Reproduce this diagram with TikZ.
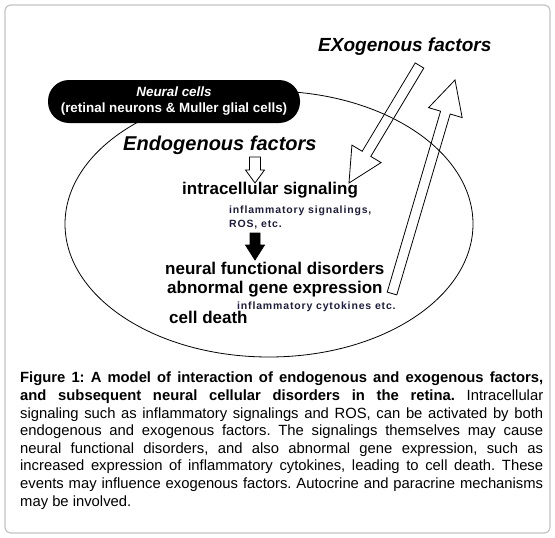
\documentclass[tikz,border=0pt]{standalone}
\usepackage{fontspec}
\setmainfont{Liberation Sans}
\usepackage{xcolor}
\usepackage{tikz}
\usetikzlibrary{calc}
\definecolor{framegray}{RGB}{195,195,195}
\definecolor{smallnavy}{RGB}{30,30,60}
\tikzstyle{headtext}=[inner sep=0pt,anchor=base west,font=\fontsize{19}{22}\selectfont\bfseries\itshape]
\tikzstyle{bigtext}=[inner sep=0pt,anchor=base west,font=\fontsize{17}{20}\selectfont\bfseries]
\tikzstyle{smalltext}=[inner sep=0pt,anchor=base west,text=smallnavy,font=\fontsize{10.5}{12}\selectfont\bfseries\addfontfeature{LetterSpace=8}]
\tikzstyle{blk}=[line width=.8pt,line join=miter]
% hollow block arrow: #2 tail, #3 tip, #4 half shaft, #5 half head, #6 head length
\newcommand\blockarrow[6][]{%
  \coordinate (#2-#3-h) at ($(#3)!#6!(#2)$);
  \draw[#1] ($(#2)!#4!90:(#3)$) -- ($(#2-#3-h)!#4!-90:(#2)$) -- ($(#2-#3-h)!#5!-90:(#2)$)
    -- (#3) -- ($(#2-#3-h)!#5!90:(#2)$) -- ($(#2-#3-h)!#4!90:(#2)$) -- ($(#2)!#4!-90:(#3)$) -- cycle;
}

\begin{document}
\begin{tikzpicture}[x=1pt,y=-1pt]
	\useasboundingbox (0,0) rectangle (555,538);
	\draw[framegray,line width=1.2pt,rounded corners=6pt] (5,5) rectangle (550,533);
	% the cell
	\draw[line width=.8pt] (269,224) ellipse [x radius=204pt,y radius=133pt];
	\node[fill=black,rounded corners=21pt,minimum width=252pt,minimum height=43pt,inner sep=0pt,
	      text=white,align=center,font=\fontsize{13.4}{16}\selectfont\bfseries]
	      (cells) at (174,101.5) {\textit{Neural cells}\\(retinal neurons \& Muller glial cells)};
	\node[headtext] (exo)  at (318,52)  {EXogenous factors};
	\node[headtext,font=\fontsize{20}{23}\selectfont\bfseries\itshape] (endo) at (123,150) {Endogenous factors};
	\node[bigtext] (signal)   at (182,194) {intracellular signaling};
	\node[smalltext] (infl)   at (229,213) {inflammatory signalings,};
	\node[smalltext] (ros)    at (229,227) {ROS, etc.};
	\node[bigtext] (disorder) at (165,274) {neural functional disorders};
	\node[bigtext] (expr)     at (167,293) {abnormal gene expression};
	\node[smalltext] (cyto)   at (237,309) {inflammatory cytokines etc.};
	\node[bigtext] (death)    at (169,323) {cell death};
	% arrows
	\coordinate (endo-a) at (255,157);
	\coordinate (endo-b) at (255,183);
	\coordinate (sig-a)  at (255,233);
	\coordinate (sig-b)  at (255,260);
	\coordinate (exo-a)  at (419.5,65.5);
	\coordinate (exo-b)  at (349,183);
	\coordinate (back-a) at (392,293.5);
	\coordinate (back-b) at (455,80);
	\blockarrow[blk]{endo-a}{endo-b}{5.5pt}{9.5pt}{13pt}
	\blockarrow[blk,fill=black]{sig-a}{sig-b}{5pt}{9.5pt}{15pt}
	\blockarrow[blk]{exo-a}{exo-b}{5pt}{17pt}{34pt}
	\blockarrow[blk]{back-a}{back-b}{5pt}{17.5pt}{34pt}
	% caption
	\node[anchor=north west,inner sep=0pt,text width=523pt,align=justify,
	      font=\fontsize{14.8}{17.6}\selectfont\frenchspacing] (caption) at (20,372) {%
	\textbf{Figure 1: A model of interaction of endogenous and exogenous factors,}\linebreak
	\textbf{and subsequent neural cellular disorders in the retina.} Intracellular\linebreak
	signaling such as inflammatory signalings and ROS, can be activated by both\linebreak
	endogenous and exogenous factors. The signalings themselves may cause\linebreak
	neural functional disorders, and also abnormal gene expression, such as\linebreak
	increased expression of inflammatory cytokines, leading to cell death. These\linebreak
	events may influence exogenous factors. Autocrine and paracrine mechanisms\linebreak
	may be involved.};
\end{tikzpicture}
\end{document}
